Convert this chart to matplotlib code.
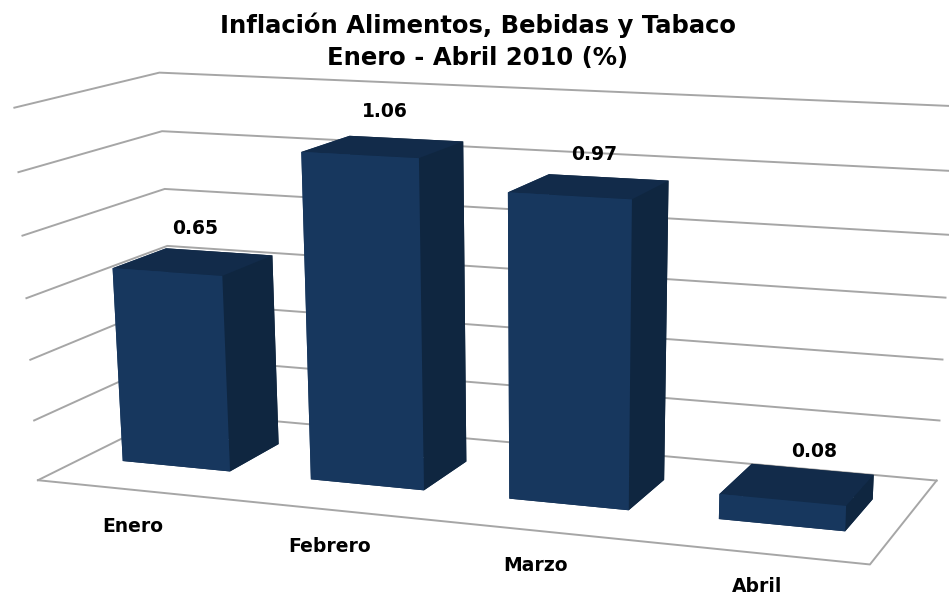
import matplotlib
matplotlib.use("Agg")
import matplotlib.pyplot as plt

titulo = ["Inflación Alimentos, Bebidas y Tabaco", "Enero - Abril 2010 (%)"]
meses = ["Enero", "Febrero", "Marzo", "Abril"]
valores = [0.65, 1.06, 0.97, 0.08]
niveles = [0, 0.2, 0.4, 0.6, 0.8, 1.0, 1.2]

W, H = 949, 595
GRIS = '#A6A6A6'
#faces: bottom, top, front, back, left, right
CARAS = ['#112B4B', '#122B4A', '#17375E', '#0F2640', '#17375E', '#0F2640']

#bar size and position on the floor (floor is 4 x 1)
ANCHO, FONDO, YC = 0.5766, 0.3888, 0.5105
#label offsets
lab_x = [0.1813 + d for d in (0.062, 0.024, -0.020, -0.052)]
lab_y = -0.3226
lab_z = [-0.020, -0.017, -0.007, 0.0]
val_x = [-0.014, -0.014, 0.0, 0.055]
val_y = YC + 0.0435
val_z = [0.1037, 0.1037, 0.0937, 0.0967]

fig = plt.figure(figsize=(W/100, H/100), dpi=100)
ax = fig.add_axes([-0.517, -1.7113, 2.0687, 3.2995], projection='3d')
ax.set_axis_off()
ax.computed_zorder = False

#camera, fitted to the wall and bar corners of the picture
RX, RY, RZ = 3.0, 1.5, 1.5
ax.view_init(elev=18.2433, azim=-69.8153, roll=0.2038)
ax.set_proj_type('persp', focal_length=0.2454)
ax.set_xlim(2 + 0.6254 - RX, 2 + 0.6254 + RX)
ax.set_ylim(0.5 - 0.9111 - RY, 0.5 - 0.9111 + RY)
ax.set_zlim(0.6 - 0.7052 - RZ, 0.6 - 0.7052 + RZ)
ax.set_box_aspect((2*RX, 2*RY*1.4039, 2*RZ*1.4538))
ax.set_xticks([])
ax.set_yticks([])
ax.set_zticks([])

for z in niveles:
	ax.plot([0, 0, 4], [0, 1, 1], [z, z, z], color=GRIS, lw=1.4, zorder=1)
ax.plot([0, 4, 4], [0, 0, 1], [0, 0, 0], color=GRIS, lw=1.4, zorder=1)

for i, v in enumerate(valores):
	ax.bar3d(i + 0.5 - ANCHO/2, YC - FONDO/2, 0, ANCHO, FONDO, v, color=CARAS, shade=False, zorder=2)
	ax.text(i + 0.5 + lab_x[i], lab_y, lab_z[i], meses[i], ha='center', va='center',
		fontweight='bold', fontsize=13.5, zorder=3)
	ax.text(i + 0.5 + val_x[i], val_y, v + val_z[i], "%.2f" % v, ha='center', va='center',
		fontweight='bold', fontsize=13.5, zorder=3)

fig.text(478/W, 1 - 25/H, titulo[0], fontweight='bold', fontsize=17.5, ha='center', va='center')
fig.text(478/W, 1 - 58/H, titulo[1], fontweight='bold', fontsize=17.5, ha='center', va='center')

fig.savefig("out.png", dpi=100)
plt.close()
